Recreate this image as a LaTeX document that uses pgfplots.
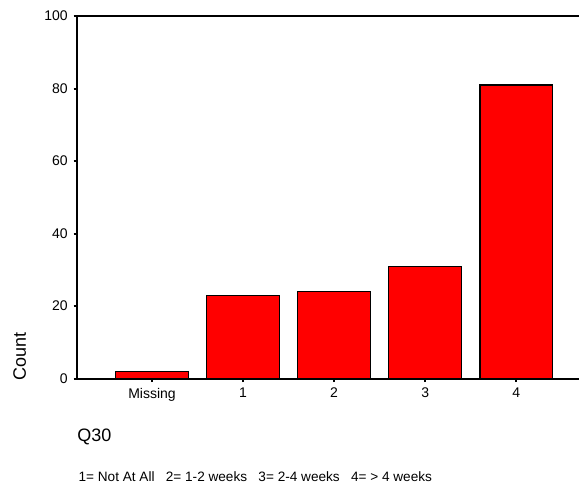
\documentclass[border=0pt]{standalone}
\usepackage{fontspec}
\setmainfont{Liberation Sans}
\usepackage{pgfplots}
\pgfplotsset{compat=1.18}
\begin{document}
\begin{tikzpicture}
\begin{axis}[name=ax, scale only axis, width=376.5pt, height=272pt,
  xmin=-0.824, xmax=4.69, ymin=0, ymax=100,
  axis x line*=bottom, axis y line*=left,
  axis line style={-, line width=1.5pt, black},
  every outer x axis line/.append style={-},
  every outer y axis line/.append style={-},
  ytick={0,20,40,60,80,100},
  xtick={0,1,2,3,4}, xticklabels={Missing,1,2,3,4},
  tick align=outside, major tick length=2.5pt,
  tick style={line width=1.5pt, black},
  /pgf/number format/assume math mode=true,
  ticklabel style={font=\fontsize{10.5}{12}\selectfont},
  yticklabel style={xshift=-1pt},
  xticklabel style={yshift=-1pt},
  clip=false]
\addplot[ybar, bar width=0.8, fill=red, draw=black, line width=1.1pt]
  coordinates {(0,2) (1,23) (2,24) (3,31) (4,81)};
\end{axis}
\draw[line width=1.5pt] (ax.north west) -- (ax.north east);
\node[rotate=90, font=\fontsize{13.5}{15}\selectfont] at ([xshift=-43pt, yshift=17pt]ax.south west) {Count};
\node[anchor=west, inner sep=0pt, font=\fontsize{13.5}{15}\selectfont] at ([yshift=-43.5pt]ax.south west) {Q30};
\node[anchor=west, inner sep=0pt, font=\fontsize{10.2}{12}\selectfont] at ([xshift=1pt, yshift=-73.7pt]ax.south west) {1= Not At All\ \ \ 2= 1-2 weeks\ \ \ 3= 2-4 weeks\ \ \ 4= > 4 weeks};
\pgfresetboundingbox
\path ([xshift=-57.75pt, yshift=12pt]ax.north west) rectangle ([yshift=-79.7pt]ax.south east);
\end{tikzpicture}
\end{document}
